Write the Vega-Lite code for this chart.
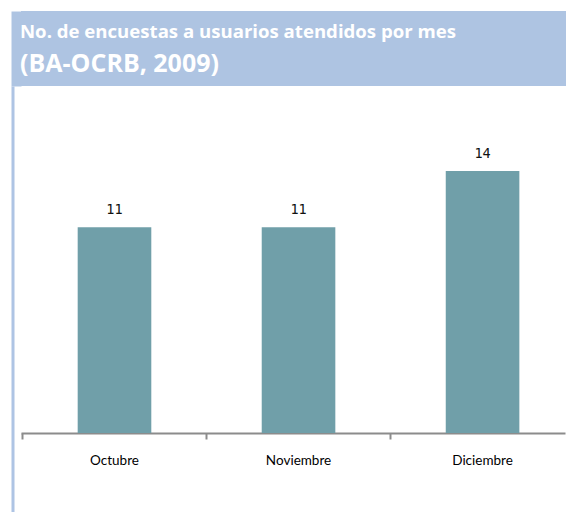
{
  "$schema": "https://vega.github.io/schema/vega-lite/v6.json",
  "padding": {"left": 12, "top": 11, "right": 0, "bottom": 0},
  "columns": 1,
  "align": "none",
  "spacing": 0,
  "config": {"view": {"stroke": null}},
  "concat": [
    {
      "width": 554,
      "height": 75,
      "view": {"fill": "#aec4e2", "stroke": null},
      "title": {
        "text": "No. de encuestas a usuarios atendidos por mes",
        "subtitle": "(BA-OCRB, 2009)",
        "anchor": "start",
        "frame": "group",
        "orient": "top",
        "offset": 0,
        "dx": -1,
        "dy": 65.7,
        "font": "Open Sans",
        "fontSize": 18.6,
        "fontWeight": "bold",
        "color": "#ffffff",
        "subtitleFont": "Open Sans",
        "subtitleFontSize": 25,
        "subtitleFontWeight": "bold",
        "subtitleColor": "#ffffff",
        "subtitlePadding": 9.8
      },
      "data": {"values": [{"v": 0}]},
      "mark": {"type": "text", "text": ""},
      "encoding": {
        "y": {
          "field": "v",
          "type": "quantitative",
          "axis": {
            "orient": "left",
            "offset": 5,
            "domainColor": "#aec4e2",
            "domainWidth": 10,
            "ticks": false,
            "labels": false,
            "title": null,
            "grid": false
          }
        }
      }
    },
    {
      "width": 544,
      "height": 426,
      "data": {
        "values": [
          {"mes": "Octubre", "n": 11},
          {"mes": "Noviembre", "n": 11},
          {"mes": "Diciembre", "n": 14}
        ]
      },
      "encoding": {
        "x": {
          "field": "mes",
          "type": "nominal",
          "sort": null,
          "scale": {"paddingInner": 0.6, "paddingOuter": 0.278, "align": 0.554},
          "axis": {
            "title": null,
            "orient": "bottom",
            "offset": -79,
            "domainColor": "#8c8c8c",
            "domainWidth": 2,
            "tickColor": "#8c8c8c",
            "tickWidth": 2,
            "tickSize": 6,
            "bandPosition": -0.75,
            "labelFont": "Lato",
            "labelFontSize": 13.5,
            "labelColor": "#000000",
            "labelPadding": 14,
            "labelAngle": 0,
            "grid": false
          }
        },
        "y": {
          "field": "n",
          "type": "quantitative",
          "scale": {"domain": [-4.22, 18.54], "nice": false},
          "axis": {
            "orient": "left",
            "offset": 8.5,
            "domainColor": "#aec4e4",
            "domainWidth": 3,
            "ticks": false,
            "labels": false,
            "title": null,
            "grid": false
          }
        }
      },
      "layer": [
        {"mark": {"type": "bar", "color": "#709fa9"}, "encoding": {"y2": {"datum": 0}}},
        {
          "mark": {"type": "text", "baseline": "alphabetic", "dy": -13, "font": "DejaVu Sans Mono", "fontSize": 13.5, "color": "#111111"},
          "encoding": {"text": {"field": "n", "type": "quantitative"}}
        }
      ]
    }
  ]
}
